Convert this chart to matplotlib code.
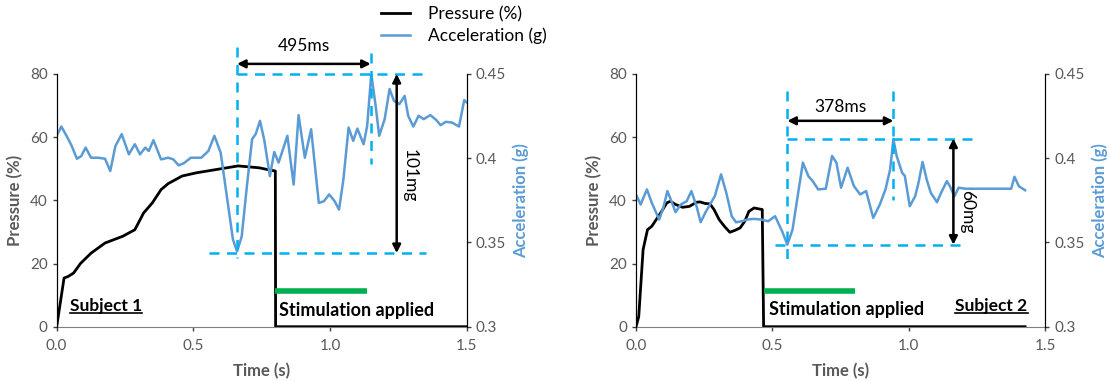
import numpy as np
import matplotlib
matplotlib.use('Agg')
import matplotlib.pyplot as plt
from matplotlib.lines import Line2D

plt.rcParams['font.family'] = ['Lato', 'DejaVu Sans']

# ---- Subject 1 ----
t_p1 = [0.0, 0.027, 0.042, 0.062, 0.087, 0.126, 0.177, 0.241, 0.286, 0.318, 0.35, 0.382,
        0.408, 0.459, 0.51, 0.587, 0.664, 0.741, 0.78, 0.8, 0.801, 1.5]
p1 = [0.0, 15.4, 15.9, 17.0, 20.0, 23.3, 26.5, 28.6, 30.7, 36.0, 39.2, 43.4,
      45.3, 47.7, 48.7, 49.8, 50.9, 50.3, 49.6, 49.3, 0.0, 0.0]

t_a1 = [0.0, 0.017, 0.036, 0.055, 0.074, 0.09, 0.106, 0.126, 0.151, 0.177, 0.196, 0.215,
        0.238, 0.264, 0.286, 0.305, 0.324, 0.337, 0.354, 0.382, 0.408, 0.427, 0.446, 0.465,
        0.491, 0.529, 0.555, 0.577, 0.6, 0.626, 0.645, 0.66, 0.677, 0.696, 0.715, 0.728,
        0.744, 0.76, 0.78, 0.796, 0.812, 0.828, 0.844, 0.867, 0.885, 0.908, 0.931, 0.959,
        0.978, 0.997, 1.017, 1.033, 1.049, 1.068, 1.085, 1.1, 1.123, 1.136, 1.151, 1.167,
        1.18, 1.2, 1.218, 1.234, 1.254, 1.273, 1.286, 1.305, 1.324, 1.343, 1.367, 1.388,
        1.405, 1.423, 1.446, 1.472, 1.491, 1.5]
a1 = [0.4133, 0.4188, 0.4133, 0.4073, 0.3997, 0.4013, 0.4063, 0.4003, 0.4003, 0.3997, 0.3924, 0.4073,
      0.4143, 0.4023, 0.4083, 0.4023, 0.4063, 0.4043, 0.4107, 0.3993, 0.4003, 0.3993, 0.3958, 0.397,
      0.4003, 0.4003, 0.4043, 0.4133, 0.4033, 0.3735, 0.3517, 0.3447, 0.3536, 0.3835, 0.4113, 0.4143,
      0.4222, 0.4103, 0.3894, 0.4037, 0.3974, 0.4053, 0.4133, 0.3844, 0.4256, 0.4003, 0.4172, 0.3735,
      0.3745, 0.3785, 0.3745, 0.3695, 0.3874, 0.4182, 0.4103, 0.4176, 0.4083, 0.4192, 0.45, 0.4311,
      0.4133, 0.4232, 0.4411, 0.4341, 0.4321, 0.437, 0.4252, 0.4188, 0.4252, 0.4232, 0.4256, 0.4228,
      0.4196, 0.4216, 0.4212, 0.4188, 0.4345, 0.4331]

# ---- Subject 2 ----
t_p2 = [0.0, 0.01, 0.026, 0.042, 0.058, 0.074, 0.094, 0.113, 0.126, 0.145, 0.171, 0.196,
        0.222, 0.235, 0.254, 0.271, 0.286, 0.305, 0.324, 0.344, 0.363, 0.382, 0.399, 0.414,
        0.433, 0.45, 0.463, 0.468, 1.427]
p2 = [0.0, 3.2, 24.4, 30.7, 31.8, 33.9, 36.5, 39.2, 39.7, 38.7, 37.8, 38.1,
      39.4, 39.5, 39.0, 38.9, 37.1, 33.9, 31.8, 29.9, 30.5, 31.3, 33.4, 36.5,
      37.6, 37.3, 37.1, 0.0, 0.0]

t_a2 = [0.0, 0.017, 0.04, 0.058, 0.085, 0.1, 0.115, 0.13, 0.145, 0.164, 0.186, 0.203,
        0.222, 0.237, 0.254, 0.271, 0.289, 0.312, 0.331, 0.351, 0.367, 0.388, 0.408, 0.433,
        0.459, 0.485, 0.51, 0.536, 0.555, 0.574, 0.591, 0.612, 0.632, 0.648, 0.668, 0.696,
        0.719, 0.735, 0.752, 0.776, 0.799, 0.822, 0.844, 0.87, 0.894, 0.915, 0.932, 0.944,
        0.956, 0.976, 0.986, 1.004, 1.024, 1.036, 1.051, 1.066, 1.081, 1.104, 1.119, 1.14,
        1.151, 1.168, 1.183, 1.209, 1.235, 1.376, 1.388, 1.404, 1.427]
a2 = [0.3785, 0.3725, 0.3815, 0.3735, 0.3636, 0.3705, 0.3805, 0.3745, 0.368, 0.3725, 0.3745, 0.3805,
      0.3715, 0.362, 0.3676, 0.3725, 0.3775, 0.3904, 0.3795, 0.3656, 0.362, 0.3626, 0.3636, 0.364,
      0.3636, 0.3626, 0.3656, 0.3566, 0.3487, 0.3576, 0.3755, 0.3974, 0.3894, 0.3864, 0.3815, 0.3819,
      0.4013, 0.3974, 0.3825, 0.3944, 0.3835, 0.3785, 0.3805, 0.3646, 0.3725, 0.3815, 0.3934, 0.4113,
      0.4013, 0.3914, 0.3894, 0.3715, 0.3775, 0.3854, 0.3978, 0.3874, 0.3795, 0.3739, 0.3795, 0.3864,
      0.3834, 0.3775, 0.3825, 0.3819, 0.3819, 0.3819, 0.389, 0.3834, 0.381]

# annotation values (time window start/end, acc min/max) per subject
labels = ['Subject 1', 'Subject 2']
delay_text = ['495ms', '378ms']
swing_text = ['101mg', '60mg']
t_start = [0.660, 0.555]
t_peak = [1.149, 0.944]
a_low = [0.3437, 0.3487]
a_high = [0.45, 0.4117]
stim_on = [0.80, 0.468]
stim_off = [1.136, 0.803]

GRAY = '#595959'
ACC = '#5B9BD5'
DASH = '#00B0F0'
GREEN = '#00B050'

fig = plt.figure(figsize=(11.09, 3.81), dpi=100)
axes_pos = [[0.0511, 0.1425, 0.3697, 0.6633], [0.5735, 0.1425, 0.3688, 0.6633]]


def style_axes(ax, ax2):
    ax.set_xlim(0, 1.5)
    ax.set_ylim(0, 80)
    ax2.set_ylim(0.3, 0.45)
    ax.set_xticks([0, 0.5, 1.0, 1.5])
    ax.set_xticklabels(['0.0', '0.5', '1.0', '1.5'])
    ax.set_yticks([0, 20, 40, 60, 80])
    ax2.set_yticks([0.3, 0.35, 0.4, 0.45])
    ax2.set_yticklabels(['0.3', '0.35', '0.4', '0.45'])
    for a in (ax, ax2):
        a.spines['top'].set_visible(False)
        a.tick_params(labelsize=11, labelcolor=GRAY, length=3, width=1, color='#404040')
    ax.spines['bottom'].set_color('#808080')
    ax2.spines['bottom'].set_visible(False)
    ax.spines['left'].set_color('black')
    ax2.spines['right'].set_color('black')
    ax.tick_params(axis='x', pad=6)
    ax.set_xlabel('Time (s)', fontsize=12, fontweight='bold', color=GRAY, labelpad=7)
    ax.set_ylabel('Pressure (%)', fontsize=12, fontweight='bold', color=GRAY, labelpad=5)
    ax2.set_ylabel('Acceleration (g)', fontsize=12, fontweight='bold', color=ACC, labelpad=5)


def annotate(ax, ax2, i, low_left, vtop, vbot, txt_y, arrow_y, h_end, low_end, v_x, sw_x, sw_y):
    kw = dict(color=DASH, lw=1.8, ls=(0, (4, 3)), clip_on=False)
    ax2.plot([t_start[i], t_start[i]], [vtop[0], vbot[0]], **kw)
    ax2.plot([t_peak[i], t_peak[i]], [vtop[1], vbot[1]], **kw)
    ax2.plot([t_start[i], h_end], [a_high[i], a_high[i]], **kw)
    ax2.plot([low_left, low_end], [a_low[i], a_low[i]], **kw)
    arr = dict(arrowstyle='<|-|>', color='black', lw=1.8, mutation_scale=12, shrinkA=0, shrinkB=0)
    ax2.annotate('', xy=(t_peak[i], arrow_y), xytext=(t_start[i], arrow_y),
                 arrowprops=arr, annotation_clip=False)
    ax2.text((t_start[i] + t_peak[i]) / 2, txt_y, delay_text[i], ha='center', va='center',
             fontsize=12.5, clip_on=False)
    ax2.annotate('', xy=(v_x, a_low[i]), xytext=(v_x, a_high[i]), arrowprops=arr,
                 annotation_clip=False)
    ax2.text(sw_x, sw_y, swing_text[i], rotation=-90, ha='center', va='center', fontsize=12.5)
    ax2.plot([stim_on[i], stim_off[i]], [0.3213, 0.3213], color=GREEN, lw=4, solid_capstyle='butt')


panels = [(t_p1, p1, t_a1, a1), (t_p2, p2, t_a2, a2)]
subj_texts = []
for i, (tp, p, ta, a) in enumerate(panels):
    ax = fig.add_axes(axes_pos[i])
    ax2 = ax.twinx()
    ax.plot(tp, p, color='black', lw=2, label='Pressure (%)')
    ax2.plot(ta, a, color=ACC, lw=1.8, label='Acceleration (g)')
    style_axes(ax, ax2)
    if i == 0:
        annotate(ax, ax2, 0, 0.559, (0.4659, 0.4625), (0.3407, 0.3964), 0.4665, 0.456,
                 1.35, 1.35, 1.244, 1.29, 0.3894)
        ax.text(0.814, 5.0, 'Stimulation applied', fontsize=13, fontweight='bold', va='center')
        st = ax.text(0.049, 6.4, labels[0], fontsize=12.5, fontweight='bold', va='center')
    else:
        annotate(ax, ax2, 1, 0.51, (0.44, 0.44), (0.3387, 0.3755), 0.4302, 0.4222,
                 1.245, 1.196, 1.164, 1.215, 0.3685)
        ax.text(0.488, 5.5, 'Stimulation applied', fontsize=13, fontweight='bold', va='center')
        st = ax.text(1.436, 6.4, labels[1], fontsize=12.5, fontweight='bold', va='center', ha='right')
    subj_texts.append(st)

handles = [Line2D([], [], color='black', lw=2), Line2D([], [], color=ACC, lw=1.8)]
fig.legend(handles, ['Pressure (%)', 'Acceleration (g)'], loc='upper center',
           bbox_to_anchor=(0.418, 1.025), frameon=False, fontsize=12.5,
           handlelength=1.7, handletextpad=1.0, labelspacing=0.3)

# underline subject labels
fig.canvas.draw()
inv = fig.transFigure.inverted()
for st in subj_texts:
    bb = st.get_window_extent().transformed(inv)
    y = bb.y0 + 0.005
    fig.add_artist(Line2D([bb.x0, bb.x1], [y, y], color='black', lw=1.2))

fig.savefig('out.png', dpi=100)
